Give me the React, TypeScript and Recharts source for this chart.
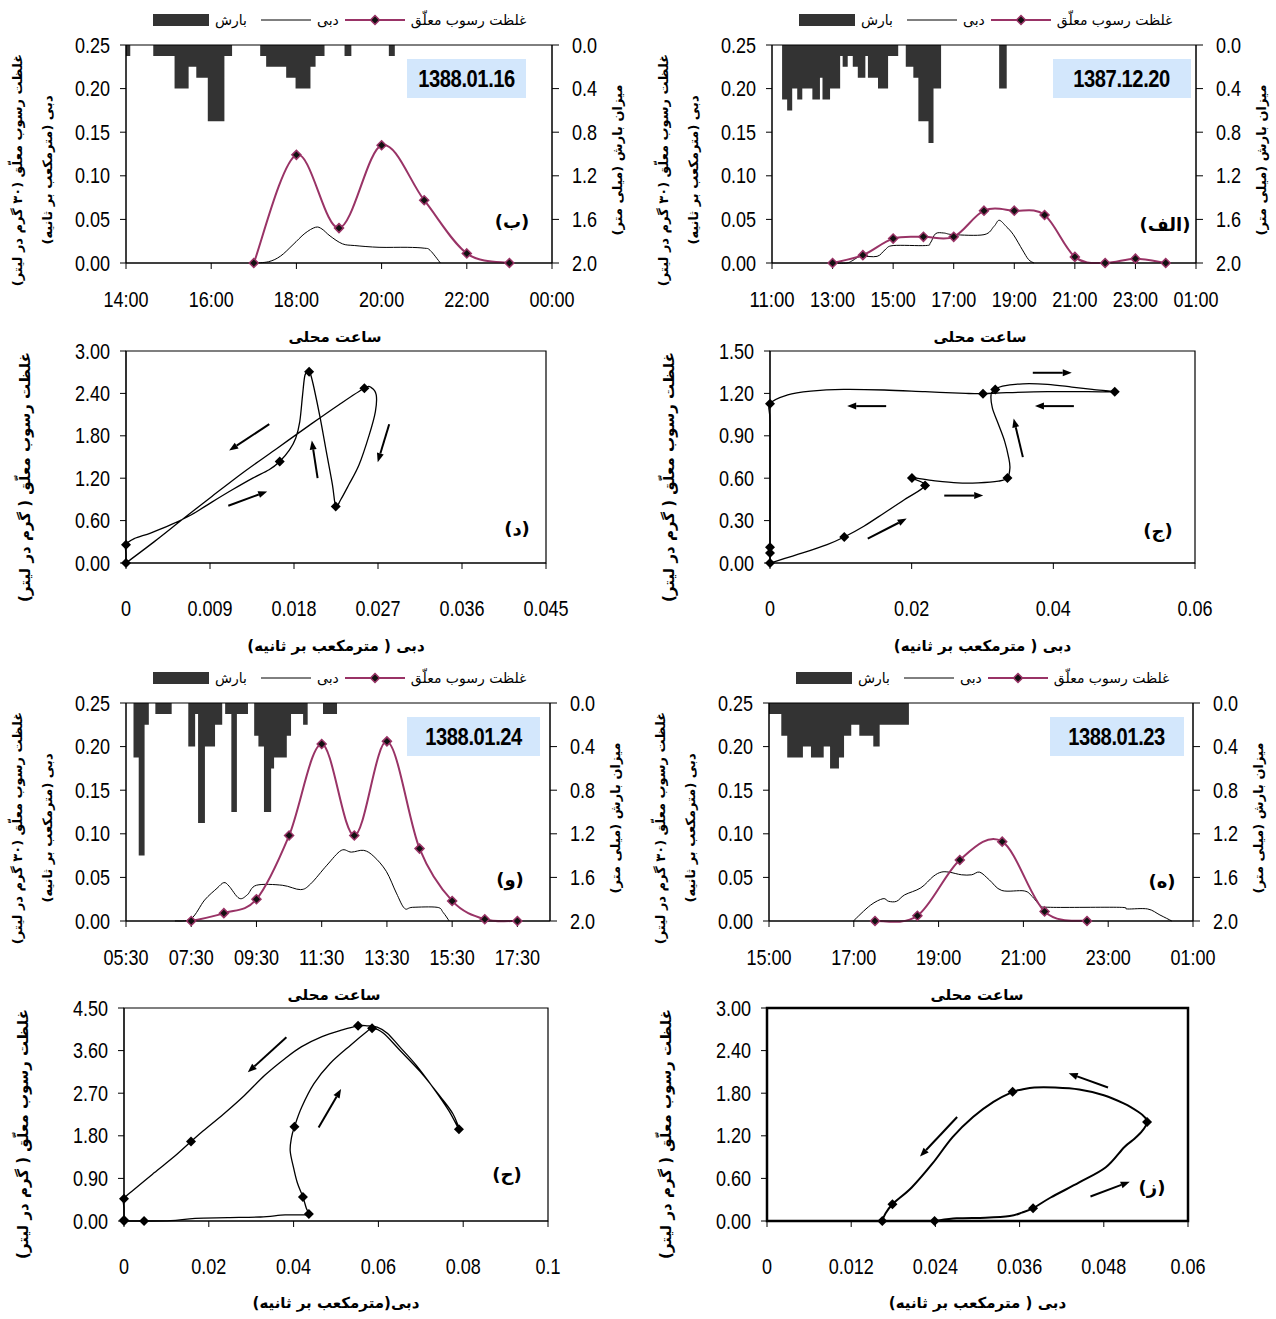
import React from "react";
import {
  ComposedChart,
  Line,
  Area,
  Scatter,
  XAxis,
  YAxis,
  ReferenceArea,
  ReferenceLine,
} from "recharts";

const FA = "'DejaVu Sans', sans-serif";
const NUM = "'Liberation Sans', Arial, sans-serif";
const PLUM = "#993366";
const RAIN = "#333333";

// ---------- (ب) 1388.01.16 ----------
const sscHoursB = [17, 18, 19, 20, 21, 22, 23];
const sscB = [0, 0.124, 0.04, 0.135, 0.072, 0.011, 0];
const qHoursB = [17, 17.35, 17.63, 17.92, 18.2, 18.45, 18.6, 18.79, 19.08, 19.37, 19.94, 20.6, 21.0, 21.14, 21.38];
const qB = [0, 0.0015, 0.008, 0.021, 0.034, 0.041, 0.039, 0.031, 0.022, 0.02, 0.018, 0.018, 0.017, 0.0145, 0];
// [start hour, end hour, mm]
const rainB: [number, number, number][] = [
  [14.0, 14.1, 0.1], [14.64, 15.14, 0.1], [15.14, 15.47, 0.4], [15.47, 15.65, 0.2],
  [15.65, 15.92, 0.3], [15.92, 16.31, 0.7], [16.31, 16.49, 0.1], [17.15, 17.29, 0.1],
  [17.29, 17.76, 0.2], [17.76, 17.98, 0.3], [17.98, 18.33, 0.4], [18.33, 18.45, 0.2],
  [18.45, 18.66, 0.1], [19.13, 19.29, 0.1], [20.17, 20.31, 0.1],
];
const ticksB = [14, 16, 18, 20, 22, 24];

// ---------- (الف) 1387.12.20 ----------
const sscHoursA = [13, 14, 15, 16, 17, 18, 19, 20, 21, 22, 23, 24];
const sscA = [0, 0.009, 0.028, 0.03, 0.03, 0.06, 0.06, 0.055, 0.007, 0, 0.005, 0];
const qHoursA = [13, 13.47, 13.67, 13.93, 14.47, 14.73, 15.0, 16.07, 16.23, 16.4, 16.67, 17.0, 18.0, 18.33, 18.5, 18.73, 18.97, 19.27, 19.47, 19.65];
const qA = [0, 0, 0.003, 0.0076, 0.0076, 0.015, 0.02, 0.02, 0.023, 0.0336, 0.0344, 0.0325, 0.0325, 0.042, 0.049, 0.042, 0.0325, 0.015, 0.004, 0];
const rainA: [number, number, number][] = [
  [11.333, 11.5, 0.5], [11.5, 11.667, 0.6], [11.667, 11.833, 0.4], [11.833, 12.0, 0.5],
  [12.0, 12.333, 0.4], [12.333, 12.583, 0.5], [12.583, 12.667, 0.3], [12.667, 12.917, 0.5],
  [12.917, 13.25, 0.4], [13.25, 13.333, 0.1], [13.333, 13.5, 0.2], [13.5, 13.667, 0.1],
  [13.667, 13.833, 0.2], [13.833, 14.083, 0.3], [14.083, 14.167, 0.1], [14.167, 14.5, 0.3],
  [14.5, 14.833, 0.4], [14.833, 15.167, 0.1], [15.417, 15.667, 0.2], [15.667, 15.833, 0.3],
  [15.833, 16.167, 0.7], [16.167, 16.333, 0.9], [16.333, 16.583, 0.4], [18.5, 18.75, 0.4],
];
const ticksA = [11, 13, 15, 17, 19, 21, 23, 25];

// ---------- (و) 1388.01.24 ----------
const sscHoursW = [7.5, 8.5, 9.5, 10.5, 11.5, 12.5, 13.5, 14.5, 15.5, 16.5, 17.5];
const sscW = [0, 0.009, 0.025, 0.098, 0.203, 0.098, 0.206, 0.083, 0.023, 0.002, 0];
const qHoursW = [7.0, 7.5, 7.91, 8.29, 8.5, 8.66, 8.97, 9.22, 9.5, 10.29, 10.85, 11.16, 11.66, 12.1, 12.41, 12.79, 13.1, 13.48, 13.79, 14.04, 14.29, 15.04, 15.22, 15.41];
const qW = [0, 0.0027, 0.024, 0.0375, 0.044, 0.04, 0.026, 0.03, 0.041, 0.041, 0.036, 0.0425, 0.064, 0.081, 0.079, 0.081, 0.074, 0.057, 0.032, 0.0145, 0.0157, 0.0157, 0.01, 0];
const rainW: [number, number, number][] = [
  [5.73, 5.89, 0.5], [5.89, 6.07, 1.4], [6.07, 6.2, 0.2], [6.4, 6.9, 0.1],
  [7.41, 7.62, 0.4], [7.62, 7.71, 0.1], [7.71, 7.92, 1.1], [7.92, 8.23, 0.4],
  [8.23, 8.45, 0.2], [8.54, 8.73, 0.1], [8.73, 8.9, 1.0], [8.9, 9.24, 0.1],
  [9.43, 9.56, 0.3], [9.56, 9.73, 0.4], [9.73, 9.95, 1.0], [9.95, 10.04, 0.6],
  [10.04, 10.43, 0.5], [10.43, 10.56, 0.3], [10.56, 10.93, 0.1], [10.93, 11.07, 0.2],
  [11.54, 11.97, 0.1],
];
const ticksW = [5.5, 7.5, 9.5, 11.5, 13.5, 15.5, 17.5];

// ---------- (ه) 1388.01.23 ----------
const sscHoursH = [17.5, 18.5, 19.5, 20.5, 21.5, 22.5];
const sscH = [0, 0.006, 0.07, 0.091, 0.011, 0];
const qHoursH = [16.99, 17.39, 17.69, 17.82, 18.01, 18.2, 18.58, 18.87, 19.06, 19.25, 19.54, 19.78, 19.97, 20.2, 20.49, 21.02, 21.21, 21.4, 21.64, 23.26, 23.45, 23.93, 24.22, 24.5];
const qH = [0, 0.018, 0.0256, 0.0226, 0.0226, 0.03, 0.038, 0.051, 0.056, 0.056, 0.053, 0.053, 0.056, 0.047, 0.035, 0.0345, 0.028, 0.018, 0.0157, 0.0157, 0.0138, 0.0138, 0.0069, 0];
const rainH: [number, number, number][] = [
  [15.0, 15.29, 0.1], [15.29, 15.43, 0.3], [15.43, 15.8, 0.5], [15.8, 15.99, 0.4],
  [15.99, 16.29, 0.5], [16.29, 16.44, 0.4], [16.44, 16.65, 0.6], [16.65, 16.77, 0.5],
  [16.77, 16.94, 0.3], [16.94, 17.13, 0.2], [17.13, 17.46, 0.3], [17.46, 17.61, 0.4],
  [17.61, 18.3, 0.2],
];
const ticksH = [15, 17, 19, 21, 23, 25];

// ---------- hysteresis loops (discharge m3/s, SSC g/l) ----------
// (د)
const loopQD = [0, 0.00307, 0.00613, 0.0092, 0.0127, 0.01621, 0.01971, 0.02278, 0.02554, 0.02628, 0.02681, 0.02672, 0.02606, 0.02497, 0.02387, 0.023, 0.02247, 0.02212, 0.02146, 0.02081, 0.02015, 0.0198, 0.01962, 0.01918, 0.01892, 0.01862, 0.01818, 0.01752, 0.01647, 0.01533, 0.01358, 0.01139, 0.0092, 0.00701, 0.00482, 0.00263, 0.00088, 0, 0, 0];
const loopCD = [0, 0.306, 0.626, 0.942, 1.295, 1.625, 1.955, 2.237, 2.473, 2.482, 2.379, 2.143, 1.813, 1.389, 1.107, 0.895, 0.801, 1.107, 1.578, 2.049, 2.473, 2.661, 2.708, 2.661, 2.379, 2.002, 1.766, 1.601, 1.437, 1.319, 1.201, 1.036, 0.862, 0.683, 0.542, 0.424, 0.344, 0.259, 0.12, 0];
const markQD = [0, 0.02554, 0.02247, 0.01962, 0.01647, 0];
const markCD = [0, 2.473, 0.801, 2.708, 1.437, 0.259];
const arrowsD = [
  [0.01535, 1.964, 0.01105, 1.592], [0.01096, 0.81, 0.01513, 1.013],
  [0.02053, 1.201, 0.01991, 1.733], [0.0282, 1.964, 0.02697, 1.427],
];

// (ج)
const loopQJ = [0, 0.00461, 0.00806, 0.01048, 0.01325, 0.01613, 0.01901, 0.02189, 0.02004, 0.02304, 0.0265, 0.02938, 0.03226, 0.03352, 0.03387, 0.0337, 0.03312, 0.03226, 0.03139, 0.03122, 0.0318, 0.03283, 0.03571, 0.03917, 0.04262, 0.0455, 0.04867, 0.04493, 0.03917, 0.03341, 0.03007, 0.02765, 0.02189, 0.01613, 0.01037, 0.00576, 0.0025, 0, 0, 0, 0, 0, 0];
const loopCJ = [0, 0.071, 0.13, 0.184, 0.26, 0.354, 0.449, 0.548, 0.602, 0.583, 0.567, 0.567, 0.579, 0.602, 0.673, 0.744, 0.862, 0.98, 1.098, 1.193, 1.228, 1.252, 1.268, 1.264, 1.245, 1.228, 1.212, 1.212, 1.212, 1.205, 1.198, 1.2, 1.212, 1.224, 1.228, 1.216, 1.19, 1.127, 1.0, 0.5, 0.111, 0.071, 0];
const markQJ = [0, 0.01048, 0.02189, 0.02004, 0.03352, 0.0318, 0.04867, 0.03007, 0, 0, 0];
const markCJ = [0, 0.184, 0.548, 0.602, 0.602, 1.228, 1.212, 1.198, 1.127, 0.111, 0.071];
const arrowsJ = [
  [0.0138, 0.172, 0.0193, 0.314], [0.0246, 0.477, 0.0301, 0.477], [0.0357, 0.749, 0.0344, 1.023],
  [0.0429, 1.11, 0.0374, 1.11], [0.0371, 1.346, 0.0426, 1.346], [0.0164, 1.11, 0.0109, 1.11],
];

// (ح)
const loopQHa = [0, 0.00473, 0.011, 0.0168, 0.0245, 0.0322, 0.038, 0.0424, 0.0436, 0.043, 0.0422, 0.0409, 0.04, 0.0392, 0.0395, 0.0402, 0.0419, 0.0448, 0.0486, 0.0535, 0.0573, 0.0585, 0.0612, 0.065, 0.0699, 0.0747, 0.0776, 0.079, 0.0766, 0.0728, 0.0689, 0.065, 0.0621, 0.0597, 0.0573, 0.0552, 0.0515, 0.0467, 0.0419, 0.038, 0.0332, 0.0284, 0.0235, 0.0187, 0.0158, 0.012, 0.0071, 0.0023, 0, 0, 0, 0];
const loopCHa = [0, 0, 0.007, 0.057, 0.071, 0.085, 0.128, 0.128, 0.149, 0.27, 0.505, 0.803, 1.123, 1.479, 1.763, 1.991, 2.403, 2.901, 3.327, 3.719, 4.003, 4.074, 3.967, 3.612, 3.15, 2.616, 2.261, 1.941, 2.332, 2.83, 3.292, 3.683, 3.967, 4.095, 4.124, 4.124, 4.038, 3.896, 3.683, 3.434, 3.079, 2.652, 2.261, 1.905, 1.678, 1.372, 1.017, 0.661, 0.469, 0.27, 0.021, 0];
const markQHa = [0, 0.00473, 0.0436, 0.0422, 0.0402, 0.0585, 0.079, 0.0552, 0.0158, 0, 0];
const markCHa = [0, 0, 0.149, 0.505, 1.991, 4.074, 1.941, 4.124, 1.678, 0.469, 0.021];
const arrowsHa = [
  [0.0383, 3.88, 0.0292, 3.14], [0.0459, 1.976, 0.0512, 2.79],
];

// (ز)
const loopQZ = [0.02388, 0.02703, 0.03111, 0.0346, 0.03635, 0.03792, 0.04043, 0.0445, 0.04829, 0.05091, 0.05237, 0.05353, 0.05417, 0.05382, 0.05295, 0.05091, 0.048, 0.0445, 0.04101, 0.0381, 0.03635, 0.03501, 0.03227, 0.02936, 0.02645, 0.02353, 0.02062, 0.01788, 0.01683, 0.01643];
const loopCZ = [0, 0.038, 0.047, 0.071, 0.118, 0.18, 0.331, 0.543, 0.756, 1.039, 1.157, 1.275, 1.394, 1.464, 1.535, 1.653, 1.772, 1.852, 1.88, 1.88, 1.852, 1.819, 1.677, 1.464, 1.181, 0.803, 0.472, 0.236, 0.094, 0];
const markQZ = [0.02388, 0.03792, 0.05417, 0.03501, 0.01788, 0.01643];
const markCZ = [0, 0.18, 1.394, 1.819, 0.236, 0];
const arrowsZ = [
  [0.0486, 1.88, 0.043, 2.08], [0.0271, 1.465, 0.0218, 0.907], [0.0461, 0.345, 0.0517, 0.553],
];

// ---------- helpers ----------
const series = (ts: number[], vs: number[]) => ts.map((t, i) => ({ t, v: vs[i] }));
const xy = (xs: number[], ys: number[]) => xs.map((x, i) => ({ x, y: ys[i] }));

function rainSteps(bars: [number, number, number][]) {
  const out: { t: number; r: number }[] = [];
  bars.forEach(([s, e, r], i) => {
    out.push({ t: s, r });
    const next = bars[i + 1];
    if (!next || next[0] - e > 0.001) out.push({ t: e, r: 0 });
  });
  return out;
}

// Catmull-Rom smoothing, close to Excel's smoothed lines
const smooth: any = (context: any) => {
  let pts: number[][] = [];
  return {
    areaStart() {},
    areaEnd() {},
    lineStart() {
      pts = [];
    },
    point(x: number, y: number) {
      pts.push([+x, +y]);
    },
    lineEnd() {
      const n = pts.length;
      if (!n) return;
      context.moveTo(pts[0][0], pts[0][1]);
      for (let i = 0; i < n - 1; i++) {
        const p0 = pts[Math.max(i - 1, 0)];
        const p1 = pts[i];
        const p2 = pts[i + 1];
        const p3 = pts[Math.min(i + 2, n - 1)];
        context.bezierCurveTo(
          p1[0] + (p2[0] - p0[0]) / 6,
          p1[1] + (p2[1] - p0[1]) / 6,
          p2[0] - (p3[0] - p1[0]) / 6,
          p2[1] - (p3[1] - p1[1]) / 6,
          p2[0],
          p2[1]
        );
      }
    },
  };
};

const pad = (n: number) => String(n).padStart(2, "0");
const fmtTime = (h: number) => {
  const hh = Math.floor(h + 1e-6);
  const mm = Math.round((h - hh) * 60);
  return `${pad(hh % 24)}:${pad(mm)}`;
};

// narrow look: squeeze Liberation Sans glyphs to ~82% of their width
const FS = 22;
const textLen = (s: string) =>
  s.split("").reduce((a, c) => a + (/[0-9]/.test(c) ? 0.556 : 0.278), 0) * FS * 0.82;

const mkTick = (fmt: (v: number) => string, anchor: string, dy = 0) => (p: any) => {
  const s = fmt(p.payload.value);
  return (
    <text
      key={`${p.index}`}
      x={p.x}
      y={p.y + dy}
      textAnchor={anchor}
      dominantBaseline="central"
      textLength={textLen(s)}
      lengthAdjust="spacingAndGlyphs"
      style={{ fontFamily: NUM, fontSize: FS, fill: "#000" }}
    >
      {s}
    </text>
  );
};

const diamond = (cx: number, cy: number, r: number) =>
  `M${cx},${cy - r}L${cx + r},${cy}L${cx},${cy + r}L${cx - r},${cy}Z`;

const sscDot = (p: any) => (
  <path key={`s${p.index}`} d={diamond(p.cx, p.cy, 4.5)} fill="#111" stroke={PLUM} strokeWidth={1.5} />
);

const loopDot = (p: any) => <path d={diamond(p.cx, p.cy, 5)} fill="#000" />;

const arrowShape = (p: any) => {
  const { x1, y1, x2, y2 } = p;
  const a = Math.atan2(y2 - y1, x2 - x1);
  const L = 9;
  const W = 3.5;
  const bx = x2 - L * Math.cos(a);
  const by = y2 - L * Math.sin(a);
  const tri = `${x2},${y2} ${bx - W * Math.sin(a)},${by + W * Math.cos(a)} ${bx + W * Math.sin(a)},${by - W * Math.cos(a)}`;
  return (
    <g>
      <line x1={x1} y1={y1} x2={bx} y2={by} stroke="#000" strokeWidth={2} />
      <polygon points={tri} fill="#000" />
    </g>
  );
};

function Txt({ x, y, children, size = 14, bold = false, rot = false }: any) {
  return (
    <div
      dir="rtl"
      style={{
        position: "absolute",
        left: x,
        top: y,
        transform: `translate(-50%, -50%)${rot ? " rotate(-90deg)" : ""}`,
        whiteSpace: "nowrap",
        fontFamily: FA,
        fontSize: size,
        fontWeight: bold ? 700 : 400,
        lineHeight: 1.2,
        color: "#000",
      }}
    >
      {children}
    </div>
  );
}

function LegendRow({ x, y }: any) {
  return (
    <div
      style={{
        position: "absolute",
        left: x,
        top: y - 10,
        height: 20,
        display: "flex",
        alignItems: "center",
        fontFamily: FA,
        fontSize: 14,
        color: "#000",
        whiteSpace: "nowrap",
      }}
    >
      <div style={{ width: 56, height: 12, background: RAIN }} />
      <span dir="rtl" style={{ marginLeft: 6 }}>بارش</span>
      <svg width="50" height="12" style={{ marginLeft: 14 }}>
        <line x1="0" y1="6" x2="50" y2="6" stroke="#000" strokeWidth="1" />
      </svg>
      <span dir="rtl" style={{ marginLeft: 6 }}>دبی</span>
      <svg width="60" height="12" style={{ marginLeft: 6 }}>
        <line x1="0" y1="6" x2="60" y2="6" stroke={PLUM} strokeWidth="2" />
        <path d={diamond(30, 6, 4.5)} fill="#111" stroke={PLUM} strokeWidth="1.5" />
      </svg>
      <span dir="rtl" style={{ marginLeft: 6 }}>غلظت رسوب معلّق</span>
    </div>
  );
}

function TimePanel({ left, top, w, h, domain, ticks, ssc, q, rain, date, boxW, letter, lx, ly }: any) {
  const W = 70 + w + 70;
  const H = 20 + h + 60;
  return (
    <>
      <div style={{ position: "absolute", left: left - 70, top: top - 20 }}>
        <ComposedChart width={W} height={H} data={rain} margin={{ top: 20, right: 0, bottom: 0, left: 0 }}>
          <XAxis
            xAxisId="t"
            type="number"
            dataKey="t"
            domain={domain}
            ticks={ticks}
            interval={0}
            height={60}
            stroke="#000"
            tickSize={6}
            tickMargin={0}
            tick={mkTick(fmtTime, "middle", 30)}
          />
          <YAxis
            yAxisId="l"
            type="number"
            domain={[0, 0.25]}
            ticks={[0, 0.05, 0.1, 0.15, 0.2, 0.25]}
            interval={0}
            width={70}
            stroke="#000"
            tickSize={6}
            tickMargin={10}
            tick={mkTick((v) => v.toFixed(2), "end")}
          />
          <YAxis
            yAxisId="r"
            orientation="right"
            type="number"
            domain={[0, 2]}
            reversed
            ticks={[0, 0.4, 0.8, 1.2, 1.6, 2]}
            interval={0}
            width={70}
            stroke="#000"
            tickSize={7}
            tickMargin={13}
            tick={mkTick((v) => v.toFixed(1), "start")}
          />
          <Area
            xAxisId="t"
            yAxisId="r"
            type="stepAfter"
            dataKey="r"
            baseValue={0}
            fill={RAIN}
            fillOpacity={1}
            stroke="none"
            isAnimationActive={false}
          />
          <Line
            xAxisId="t"
            yAxisId="l"
            data={q}
            dataKey="v"
            type={smooth}
            stroke="#000"
            strokeWidth={1}
            dot={false}
            activeDot={false}
            isAnimationActive={false}
          />
          <Line
            xAxisId="t"
            yAxisId="l"
            data={ssc}
            dataKey="v"
            type={smooth}
            stroke={PLUM}
            strokeWidth={2}
            dot={sscDot}
            activeDot={false}
            isAnimationActive={false}
          />
          <ReferenceArea
            xAxisId="t"
            yAxisId="l"
            x1={domain[0]}
            x2={domain[1]}
            y1={0}
            y2={0.25}
            fill="none"
            stroke="#000"
            strokeWidth={1}
            ifOverflow="visible"
          />
        </ComposedChart>
      </div>
      <LegendRow x={left + 27} y={top - 25} />
      <div
        style={{
          position: "absolute",
          left: left + 281,
          top: top + 14,
          width: boxW,
          height: 39,
          background: "#d3e7fc",
          display: "flex",
          alignItems: "center",
          justifyContent: "center",
          fontFamily: NUM,
          fontWeight: 700,
          fontSize: 24,
          color: "#000",
        }}
      >
        <span style={{ display: "inline-block", transform: "scaleX(0.84)", letterSpacing: -0.5 }}>{date}</span>
      </div>
      <Txt x={left + lx} y={top + ly} size={18} bold>{letter}</Txt>
      <Txt x={left - 108} y={top + 125} size={13} bold rot>غلظت رسوب معلّق (۳۰ گرم در لیتر)</Txt>
      <Txt x={left - 78} y={top + 125} size={13} bold rot>دبی (مترمکعب بر ثانیه)</Txt>
      <Txt x={left + w + 66} y={top + 115} size={13} bold rot>میزان بارش (میلی متر)</Txt>
      <Txt x={left + w / 2 - 4} y={top + 292} size={15} bold>ساعت محلی</Txt>
    </>
  );
}

function LoopPanel({ left, top, w, h, xDomain, xTicks, yMax, yTicks, path, marks, arrows, heavy, letter, lx, ly, xTitle }: any) {
  const W = 70 + w + 40;
  const H = 20 + h + 60;
  return (
    <>
      <div style={{ position: "absolute", left: left - 70, top: top - 20 }}>
        <ComposedChart width={W} height={H} margin={{ top: 20, right: 40, bottom: 0, left: 0 }}>
          <XAxis
            type="number"
            dataKey="x"
            domain={xDomain}
            ticks={xTicks}
            interval={0}
            height={60}
            stroke="#000"
            tickSize={6}
            tickMargin={0}
            tick={mkTick((v) => String(v), "middle", 39)}
          />
          <YAxis
            type="number"
            dataKey="y"
            domain={[0, yMax]}
            ticks={yTicks}
            interval={0}
            width={70}
            stroke="#000"
            tickSize={6}
            tickMargin={10}
            tick={mkTick((v) => v.toFixed(2), "end")}
          />
          <ReferenceArea
            x1={xDomain[0]}
            x2={xDomain[1]}
            y1={0}
            y2={yMax}
            fill="none"
            stroke="#000"
            strokeWidth={heavy ? 2.5 : 1.2}
            ifOverflow="visible"
          />
          <Line
            data={path}
            dataKey="y"
            type={smooth}
            stroke="#000"
            strokeWidth={heavy ? 2 : 1.3}
            dot={false}
            activeDot={false}
            isAnimationActive={false}
          />
          <Scatter data={marks} fill="#000" shape={loopDot} isAnimationActive={false} />
          {arrows.map((a: number[], i: number) => (
            <ReferenceLine
              key={i}
              segment={[{ x: a[0], y: a[1] }, { x: a[2], y: a[3] }]}
              shape={arrowShape}
              ifOverflow="visible"
            />
          ))}
        </ComposedChart>
      </div>
      <Txt x={left + lx} y={top + ly} size={18} bold>{letter}</Txt>
      <Txt x={left - 101} y={top + 126} size={15} bold rot>غلظت رسوب معلّق ( گرم در لیتر)</Txt>
      <Txt x={left + w / 2} y={top + 295} size={15} bold>{xTitle}</Txt>
    </>
  );
}

export default function App() {
  return (
    <div
      style={{
        position: "absolute",
        left: 0,
        top: 0,
        width: 1276,
        height: 1319,
        background: "#fff",
        overflow: "hidden",
      }}
    >
      <TimePanel
        left={126} top={45} w={426} h={218}
        domain={[14, 24]} ticks={ticksB}
        ssc={series(sscHoursB, sscB)} q={series(qHoursB, qB)} rain={rainSteps(rainB)}
        date="1388.01.16" boxW={119} letter="(ب)" lx={386} ly={177}
      />
      <TimePanel
        left={772} top={45} w={424} h={218}
        domain={[11, 25]} ticks={ticksA}
        ssc={series(sscHoursA, sscA)} q={series(qHoursA, qA)} rain={rainSteps(rainA)}
        date="1387.12.20" boxW={138} letter="(الف)" lx={393} ly={180}
      />
      <TimePanel
        left={126} top={703} w={424} h={218}
        domain={[5.5, 18.5]} ticks={ticksW}
        ssc={series(sscHoursW, sscW)} q={series(qHoursW, qW)} rain={rainSteps(rainW)}
        date="1388.01.24" boxW={133} letter="(و)" lx={384} ly={177}
      />
      <TimePanel
        left={769} top={703} w={424} h={218}
        domain={[15, 25]} ticks={ticksH}
        ssc={series(sscHoursH, sscH)} q={series(qHoursH, qH)} rain={rainSteps(rainH)}
        date="1388.01.23" boxW={134} letter="(ه)" lx={393} ly={179}
      />

      <LoopPanel
        left={126} top={351} w={420} h={212}
        xDomain={[0, 0.045]} xTicks={[0, 0.009, 0.018, 0.027, 0.036, 0.045]}
        yMax={3} yTicks={[0, 0.6, 1.2, 1.8, 2.4, 3]}
        path={xy(loopQD, loopCD)} marks={xy(markQD, markCD)} arrows={arrowsD}
        letter="(د)" lx={391} ly={178} xTitle="دبی ( مترمکعب بر ثانیه)"
      />
      <LoopPanel
        left={770} top={351} w={425} h={212}
        xDomain={[0, 0.06]} xTicks={[0, 0.02, 0.04, 0.06]}
        yMax={1.5} yTicks={[0, 0.3, 0.6, 0.9, 1.2, 1.5]}
        path={xy(loopQJ, loopCJ)} marks={xy(markQJ, markCJ)} arrows={arrowsJ}
        letter="(ج)" lx={388} ly={180} xTitle="دبی ( مترمکعب بر ثانیه)"
      />
      <LoopPanel
        left={124} top={1008} w={424} h={213}
        xDomain={[0, 0.1]} xTicks={[0, 0.02, 0.04, 0.06, 0.08, 0.1]}
        yMax={4.5} yTicks={[0, 0.9, 1.8, 2.7, 3.6, 4.5]}
        path={xy(loopQHa, loopCHa)} marks={xy(markQHa, markCHa)} arrows={arrowsHa}
        letter="(ح)" lx={383} ly={167} xTitle="دبی(مترمکعب بر ثانیه)"
      />
      <LoopPanel
        left={767} top={1008} w={421} h={213}
        xDomain={[0, 0.06]} xTicks={[0, 0.012, 0.024, 0.036, 0.048, 0.06]}
        yMax={3} yTicks={[0, 0.6, 1.2, 1.8, 2.4, 3]}
        path={xy(loopQZ, loopCZ)} marks={xy(markQZ, markCZ)} arrows={arrowsZ} heavy
        letter="(ز)" lx={385} ly={180} xTitle="دبی ( مترمکعب بر ثانیه)"
      />
    </div>
  );
}
